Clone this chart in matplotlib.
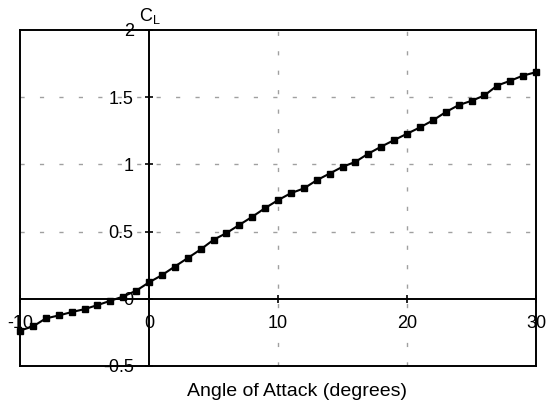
import matplotlib.pyplot as plt
from matplotlib.lines import Line2D

# angle of attack (deg) and lift coefficient
alpha = list(range(-10, 31))
cl = [-0.236, -0.206, -0.146, -0.124, -0.099, -0.077, -0.047, -0.015, 0.017, 0.06,
      0.122, 0.176, 0.24, 0.303, 0.367, 0.439, 0.489, 0.55, 0.61, 0.675,
      0.734, 0.786, 0.821, 0.882, 0.932, 0.982, 1.019, 1.08, 1.132, 1.181,
      1.228, 1.275, 1.327, 1.389, 1.441, 1.473, 1.513, 1.587, 1.622, 1.661, 1.686]

xticks = [-10, 0, 10, 20, 30]
xtick_labels = ['-10', '0', '10', '20', '30']
yticks = [-0.5, 0, 0.5, 1, 1.5, 2]
ytick_labels = ['-0.5', '0', '0.5', '1', '1.5', '2']

plt.rcParams['font.family'] = ['Liberation Sans', 'DejaVu Sans']

fig = plt.figure(figsize=(5.47, 4.04), dpi=100)
ax = fig.add_axes([20 / 547, 1 - 366 / 404, 516 / 547, 336 / 404])

ax.set_xlim(-10, 30)
ax.set_ylim(-0.5, 2)

# grid
for gx in [10, 20]:
    ax.axvline(gx, color='#a0a0a0', lw=1, dashes=(3, 11), zorder=0)
for gy in [0.5, 1, 1.5]:
    ax.axhline(gy, color='#a0a0a0', lw=1, dashes=(3, 11), zorder=0)

# axes through the origin, box around
ax.spines['left'].set_position(('data', 0))
ax.spines['bottom'].set_position(('data', 0))
for s in ax.spines.values():
    s.set_linewidth(1.4)
for xs, ys in [([0, 0], [0, 1]), ([0, 1], [0, 0])]:
    ax.add_line(Line2D(xs, ys, transform=ax.transAxes, color='black', lw=1.4, clip_on=False))

ax.set_xticks(xticks)
ax.set_xticklabels(xtick_labels)
ax.set_yticks(yticks)
ax.set_yticklabels(ytick_labels)
ax.tick_params(axis='both', direction='inout', length=6, width=1.2, labelsize=13)
ax.tick_params(axis='x', pad=9)
ax.tick_params(axis='y', pad=8)

ax.plot(alpha, cl, color='black', lw=1.5, marker='s', markersize=4.5, clip_on=False, zorder=3)

ax.text(0.1, 2.03, r'C$_\mathregular{L}$', fontsize=13, ha='center', va='bottom')
ax.text(0.537, -0.05, 'Angle of Attack (degrees)', transform=ax.transAxes,
        fontsize=14, ha='center', va='top')

fig.savefig('out.png', dpi=100)
